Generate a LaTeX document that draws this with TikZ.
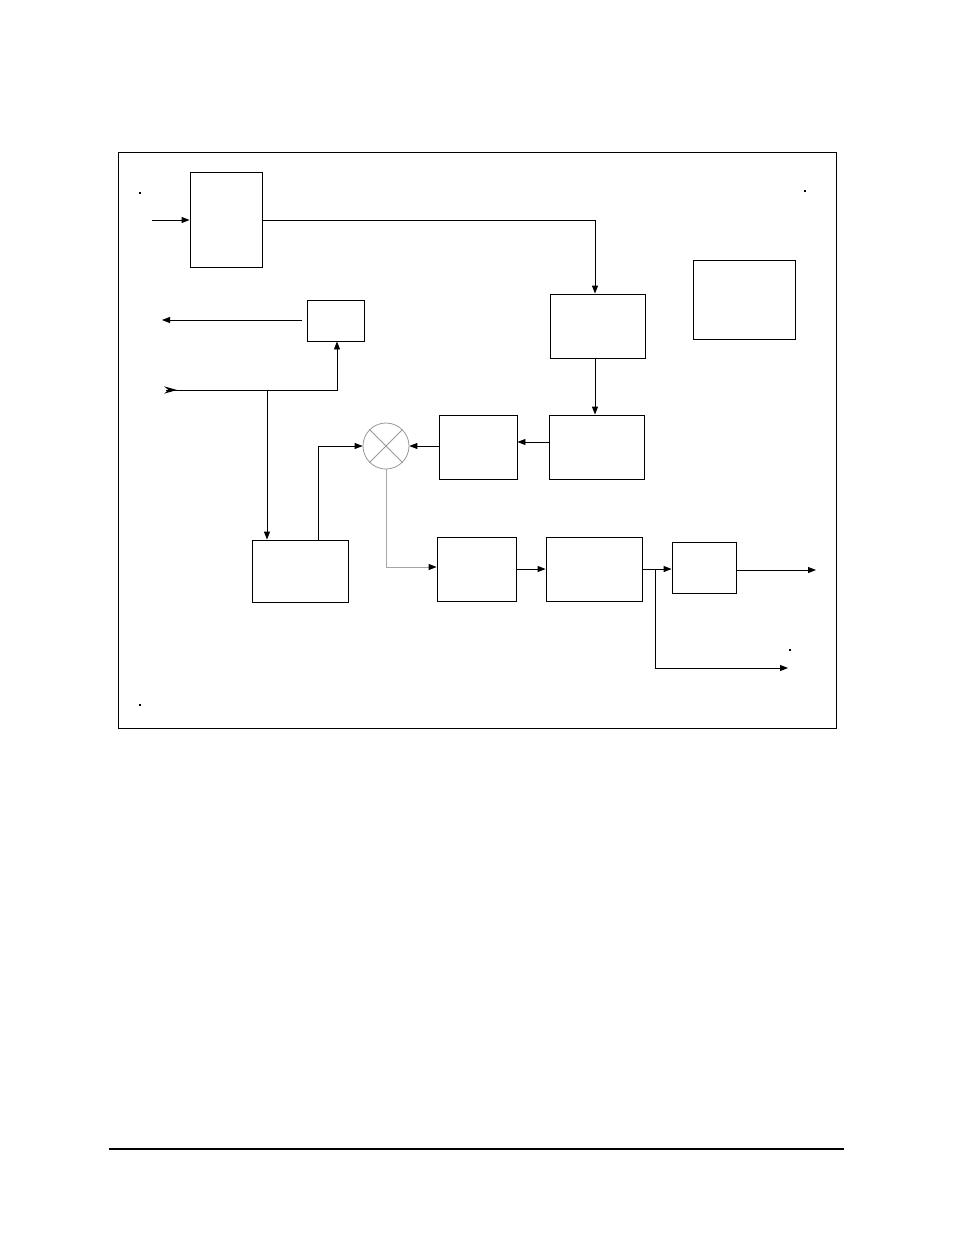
\documentclass[tikz,border=0pt]{standalone}
\usetikzlibrary{arrows.meta}
\begin{document}
\begin{tikzpicture}[x=1pt,y=-1pt,
  blk/.style={draw,line width=0.9pt},
  con/.style={line width=0.9pt,-{Triangle[length=8pt,width=6pt]}},
  gcon/.style={line width=0.9pt,draw=gray!70,-{Triangle[length=8pt,width=6pt,color=black]}},
  ln/.style={line width=0.9pt},
  speck/.style={fill=black,minimum size=1.6pt,inner sep=0pt}]
\useasboundingbox (0,0) rectangle (954,1235);
% frame
\draw[line width=0.9pt] (118,152) rectangle (836,728);
\draw[line width=1.6pt] (109,1149) -- (844,1149);
% boxes
\node[blk,minimum width=72pt,minimum height=95pt,inner sep=0pt] (A) at (226,219.5) {};
\node[blk,minimum width=95pt,minimum height=64pt,inner sep=0pt] (B) at (597.5,326) {};
\node[blk,minimum width=102pt,minimum height=79pt,inner sep=0pt] (R) at (744,299.5) {};
\node[blk,minimum width=57pt,minimum height=41pt,inner sep=0pt] (C) at (335.5,320.5) {};
\node[blk,minimum width=96pt,minimum height=62pt,inner sep=0pt] (D) at (300,571) {};
\node[draw=gray!80,line width=0.8pt,circle,minimum size=46pt,inner sep=0pt] (X) at (386,446) {};
\draw[gray!80,line width=0.8pt] (X.45) -- (X.225) (X.135) -- (X.-45);
\node[blk,minimum width=78pt,minimum height=64pt,inner sep=0pt] (E) at (478,447) {};
\node[blk,minimum width=95pt,minimum height=64pt,inner sep=0pt] (F) at (596.5,447) {};
\node[blk,minimum width=79pt,minimum height=64pt,inner sep=0pt] (G) at (476.5,569) {};
\node[blk,minimum width=96pt,minimum height=64pt,inner sep=0pt] (H) at (594,569) {};
\node[blk,minimum width=64pt,minimum height=51pt,inner sep=0pt] (I) at (704,567.5) {};
% free ends
\coordinate (inA) at (152,220);
\coordinate (outC) at (162,320);
\coordinate (inT) at (166,390);
\coordinate (j1) at (267,390);
\coordinate (outI) at (816,570);
\coordinate (j2) at (655,569);
\coordinate (out2) at (788,668);
% connectors
\draw[con] (inA) -- (A.west |- inA);
\draw[con] (A.east |- 0,220) -- (595,220) -- (B.north -| 595,0);
\draw[con] (302,320) -- (outC);
\draw[con] (inT) -- (337,390) -- (C.south -| 337,0);
\fill (164,386.3) -- (177,390) -- (164,393.7) -- (168.5,390) -- cycle;
\draw[con] (j1) -- (D.north -| j1);
\draw[con] (D.north -| 318,0) -- (318,446) -- (X.west);
\draw[con] (E.west |- X) -- (X.east);
\draw[con] (F.west |- 0,442) -- (E.east |- 0,442);
\draw[con] (B.south -| 595,0) -- (F.north -| 595,0);
\draw[gcon] (X.south) -- (386,567) -- (G.west |- 0,567);
\draw[con] (G.east |- 0,569) -- (H.west |- 0,569);
\draw[con] (H.east |- 0,569) -- (I.west |- 0,569);
\draw[con] (I.east |- outI) -- (outI);
\draw[con] (j2) -- (655,668) -- (out2);
% specks
\node[speck] (s1) at (140,193) {};
\node[speck] (s2) at (805,191) {};
\node[speck] (s3) at (140,705) {};
\node[speck,minimum size=1.2pt] (s4) at (790,650) {};
\end{tikzpicture}
\end{document}
